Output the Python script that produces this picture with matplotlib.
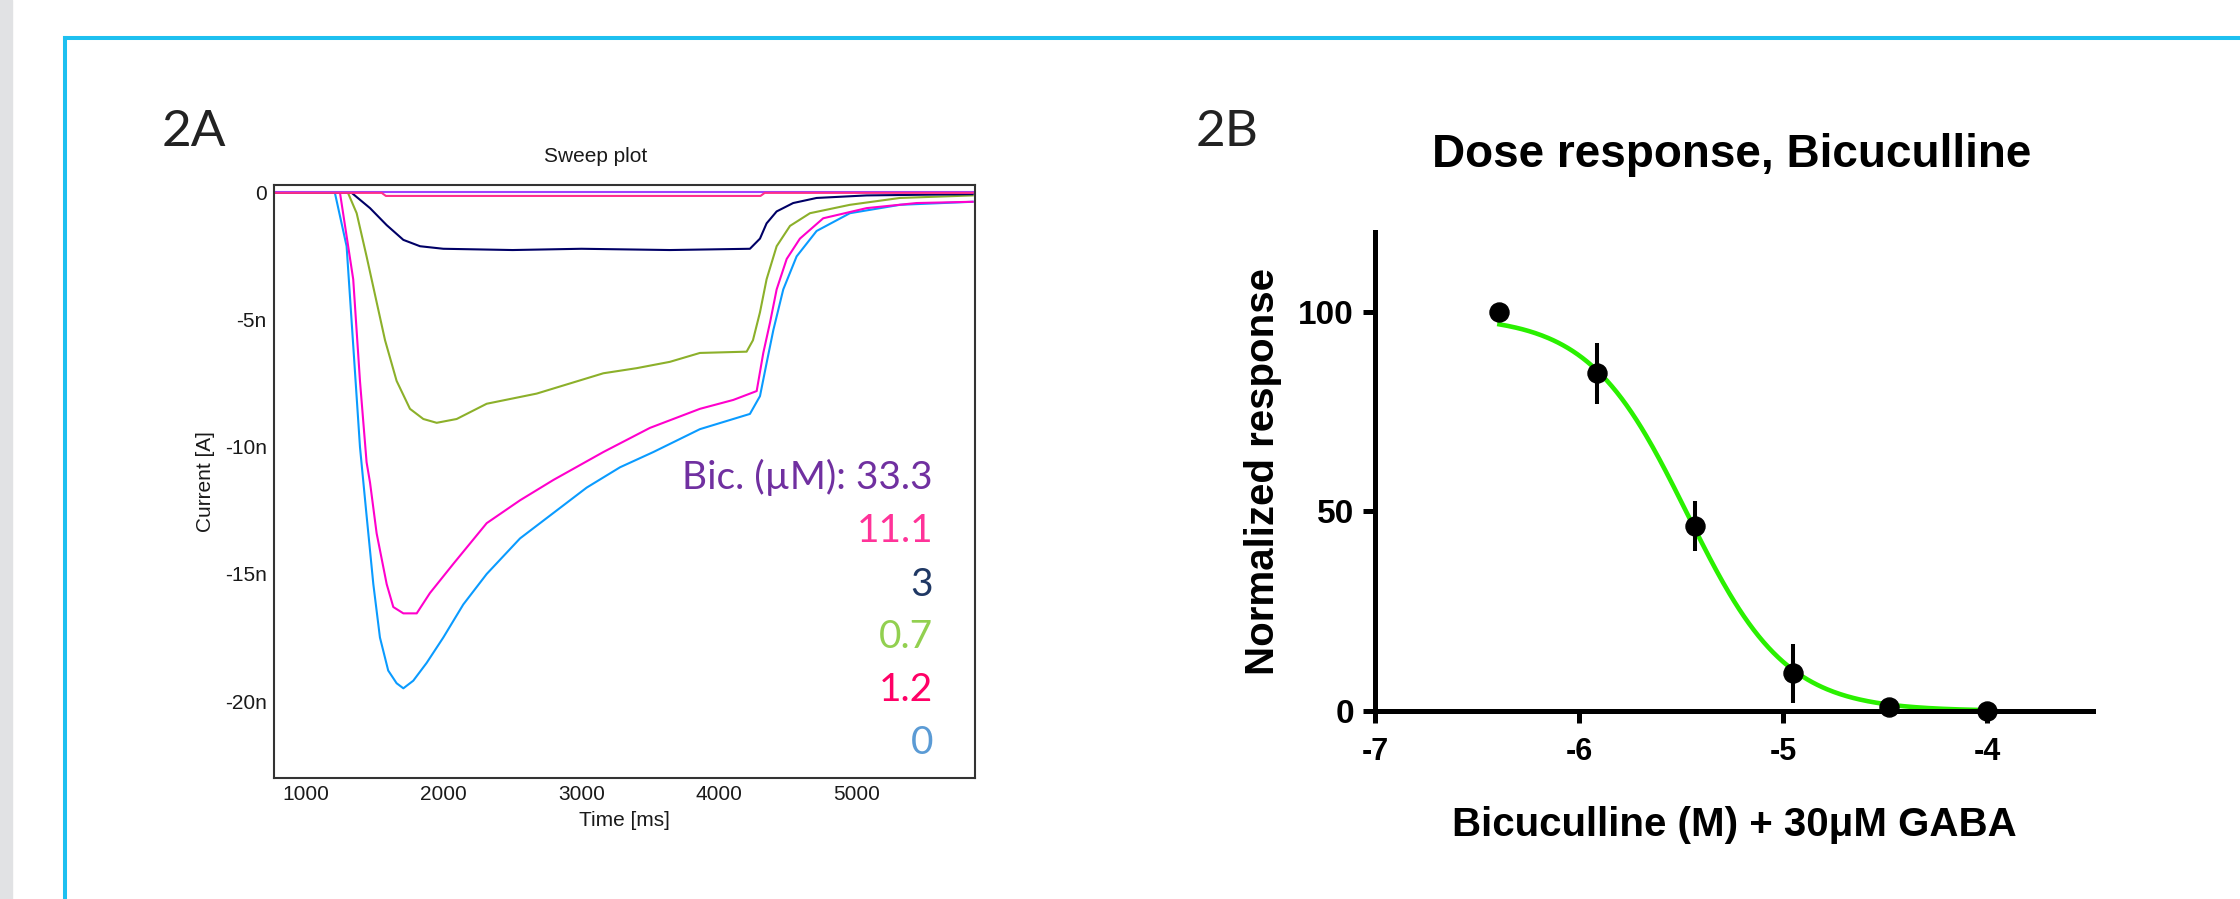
import numpy as np
import matplotlib.pyplot as plt
from matplotlib.lines import Line2D
from matplotlib.patches import Rectangle

plt.rcParams['axes.unicode_minus'] = False

# ---- 2A: current traces (time in ms, current in nA) ----
t_0 = [770, 1210, 1295, 1343, 1392, 1440, 1489, 1537, 1597, 1658, 1707, 1779, 1876,
       1997, 2142, 2312, 2554, 2796, 3038, 3280, 3522, 3860, 4223, 4296, 4344, 4393,
       4465, 4562, 4707, 4949, 5312, 5840]
i_0 = [0, 0, -2.1, -6.0, -10.0, -12.7, -15.4, -17.5, -18.8, -19.3, -19.5, -19.2, -18.5,
       -17.5, -16.2, -15.0, -13.6, -12.6, -11.6, -10.8, -10.2, -9.3, -8.7, -8.0, -6.7,
       -5.4, -3.8, -2.5, -1.5, -0.8, -0.47, -0.35]

t_1_2 = [770, 1247, 1343, 1392, 1440, 1465, 1513, 1586, 1634, 1707, 1804, 1900, 2070,
         2312, 2554, 2796, 3159, 3497, 3860, 4102, 4272, 4320, 4369, 4417, 4490, 4586,
         4755, 5070, 5433, 5840]
i_1_2 = [0, 0, -3.4, -7.4, -10.6, -11.4, -13.4, -15.4, -16.3, -16.55, -16.55, -15.75,
         -14.6, -13.0, -12.1, -11.3, -10.2, -9.25, -8.5, -8.15, -7.8, -6.3, -5.1, -3.8,
         -2.6, -1.8, -1.0, -0.6, -0.4, -0.35]

t_0_7 = [770, 1305, 1368, 1440, 1513, 1574, 1658, 1755, 1852, 1949, 2094, 2312, 2675,
         2917, 3159, 3400, 3642, 3860, 4199, 4245, 4296, 4344, 4417, 4514, 4659, 4949,
         5312, 5840]
i_0_7 = [0, 0, -0.8, -2.5, -4.3, -5.8, -7.4, -8.5, -8.9, -9.05, -8.9, -8.3, -7.9, -7.5,
         -7.1, -6.9, -6.65, -6.3, -6.25, -5.8, -4.7, -3.4, -2.1, -1.3, -0.8, -0.47,
         -0.2, -0.1]

t_3 = [770, 1332, 1465, 1586, 1707, 1828, 1997, 2500, 3000, 3642, 4223, 4296, 4344,
       4417, 4537, 4707, 5070, 5840]
i_3 = [0, 0, -0.6, -1.27, -1.85, -2.1, -2.2, -2.25, -2.2, -2.25, -2.2, -1.8, -1.2,
       -0.73, -0.4, -0.2, -0.1, -0.05]

t_33_3 = [770, 5840]
i_33_3 = [0.03, 0.03]

t_11_1 = [770, 1550, 1580, 4300, 4330, 5840]
i_11_1 = [0, 0, -0.12, -0.12, 0, 0]

traces = [
    (t_0, i_0, '#0a9bff'),
    (t_1_2, i_1_2, '#ff00cc'),
    (t_0_7, i_0_7, '#8cb02a'),
    (t_3, i_3, '#000066'),
    (t_33_3, i_33_3, '#a040ff'),
    (t_11_1, i_11_1, '#ff2d8a'),
]

conc_labels = ['Bic. (\u00b5M): 33.3', '11.1', '3', '0.7', '1.2', '0']
conc_colors = ['#7030a0', '#ff3399', '#1f3864', '#92d050', '#ff0066', '#5b9bd5']

# ---- 2B: dose response ----
log_conc = [-6.39, -5.91, -5.43, -4.95, -4.48, -4.0]
response = [100, 84.6, 46.3, 9.4, 1.0, 0.0]
sem = [0, 7.7, 6.2, 7.3, 0.5, 0.3]

# fitted sigmoid parameters
fit_top = 99.0
fit_bottom = 0.0
fit_logic50 = -5.47
fit_hill = 1.8

W, H = 2240, 899


def fx(px):
    return px / W


def fy(py):
    return 1 - py / H


fig = plt.figure(figsize=(W / 100, H / 100), dpi=100)

# page decoration: grey strip and cyan frame
fig.patches.append(Rectangle((0, 0), fx(12), 1, transform=fig.transFigure,
                             color='#e1e2e4', zorder=0))
fig.lines.append(Line2D([fx(64.5), fx(64.5)], [0, fy(37.5)], transform=fig.transFigure,
                        color='#1ec0f0', lw=2.9, solid_capstyle='projecting'))
fig.lines.append(Line2D([fx(64.5), 1], [fy(37.5), fy(37.5)], transform=fig.transFigure,
                        color='#1ec0f0', lw=2.9, solid_capstyle='projecting'))

letter_font = ['Lato', 'DejaVu Sans']
fig.text(fx(162), fy(146), '2A', fontsize=37, family=letter_font, color='#222222',
         va='baseline')
fig.text(fx(1196), fy(146), '2B', fontsize=37, family=letter_font, color='#222222',
         va='baseline')

# ---- left panel ----
ax1 = fig.add_axes([fx(273.6), fy(778), (975 - 273.6) / W, (778 - 185) / H])
for t, cur, c in traces:
    ax1.plot(t, cur, color=c, lw=1.5)
ax1.set_xlim(765, 5857)
ax1.set_ylim(-23.03, 0.31)
ax1.set_xticks([1000, 2000, 3000, 4000, 5000])
ax1.set_yticks([0, -5, -10, -15, -20])
ax1.set_yticklabels(['0', '-5n', '-10n', '-15n', '-20n'])
ax1.tick_params(length=0, labelsize=15, pad=5, labelcolor='#1a1a1a')
for lab in ax1.get_xticklabels() + ax1.get_yticklabels():
    lab.set_family('Liberation Sans')
for sp in ax1.spines.values():
    sp.set_linewidth(1.5)
    sp.set_color('#333333')
ax1.set_xlabel('Time [ms]', fontsize=15, family='Liberation Sans', labelpad=5,
               color='#1a1a1a')
ax1.set_ylabel('Current [A]', fontsize=15, family='Liberation Sans', labelpad=7,
               color='#1a1a1a')
fig.text(fx(544), fy(162), 'Sweep plot', fontsize=15, family='Liberation Sans',
         color='#1a1a1a', va='baseline')

baselines = [489, 542, 596, 648, 701, 754]
for s, c, b in zip(conc_labels, conc_colors, baselines):
    fig.text(fx(933), fy(b), s, fontsize=28, family=letter_font, color=c,
             ha='right', va='baseline')

# ---- right panel ----
bold = dict(family='Liberation Sans', weight='bold')
ax2 = fig.add_axes([fx(1375), fy(711), (2093 - 1375) / W, (711 - 232) / H])
xs = np.linspace(log_conc[0], log_conc[-1], 300)
fit = fit_bottom + (fit_top - fit_bottom) / (1 + 10 ** ((xs - fit_logic50) * fit_hill))
ax2.plot(xs, fit, color='#2af000', lw=3.3, zorder=2)
ax2.errorbar(log_conc, response, yerr=sem, fmt='o', color='black', ms=13.7,
             elinewidth=2.9, capsize=0, clip_on=False, zorder=3)
ax2.set_xlim(-7, -3.48)
ax2.set_ylim(0, 120)
ax2.set_xticks([-7, -6, -5, -4])
ax2.set_yticks([0, 50, 100])
ax2.spines['top'].set_visible(False)
ax2.spines['right'].set_visible(False)
for sp in ('left', 'bottom'):
    ax2.spines[sp].set_linewidth(3.6)
ax2.tick_params(width=3.6, length=8.6)
ax2.tick_params(axis='x', labelsize=22, pad=10)
ax2.tick_params(axis='y', labelsize=24, pad=6.5)
for lab in ax2.get_xticklabels() + ax2.get_yticklabels():
    lab.set_family('Liberation Sans')
    lab.set_weight('bold')
ax2.set_xlabel('Bicuculline (M) + 30\u03bcM GABA', fontsize=29, labelpad=28, **bold)
ax2.set_ylabel('Normalized response', fontsize=29, labelpad=12, **bold)
fig.text(fx(1732), fy(167), 'Dose response, Bicuculline', fontsize=33, ha='center',
         va='baseline', **bold)

fig.savefig('out.png', dpi=100)
